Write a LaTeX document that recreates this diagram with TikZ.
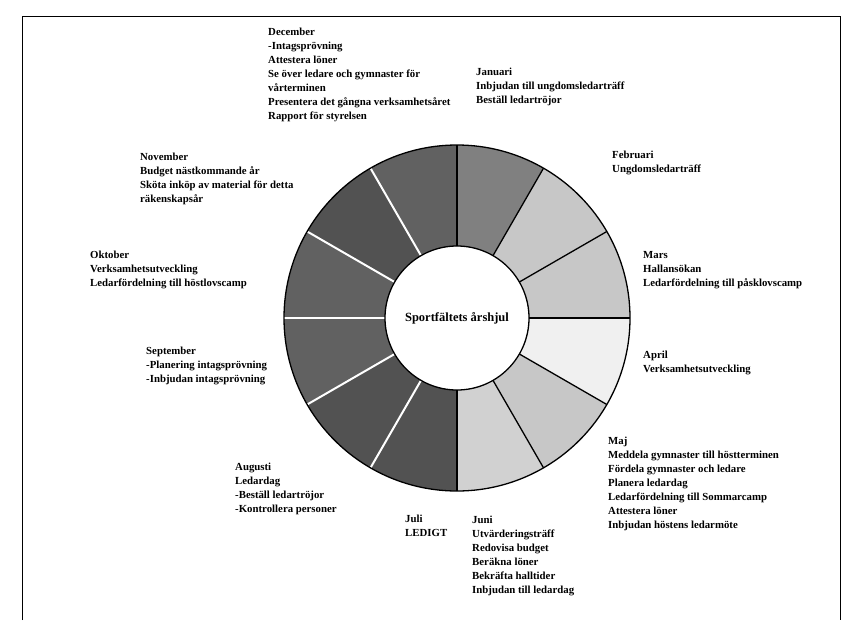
\documentclass[tikz,border=0pt]{standalone}
\usepackage{fontspec}
\setmainfont{Liberation Serif}
\begin{document}
\begin{tikzpicture}[x=1pt,y=-1pt,
  lbl/.style={anchor=north west, align=left, inner sep=0pt,
    font=\bfseries\fontsize{10.8}{14}\selectfont},
  ringline/.style={draw=black, line width=1.3pt},
  gapline/.style={draw=white, line width=2pt}]
\useasboundingbox (0,0) rectangle (861,627);
% frame
\draw[line width=1pt] (22,620) -- (22,16) -- (840,16) -- (840,620);
% ring sectors
\begin{scope}[shift={(457,318)}]
\foreach \k/\g in {0/50,1/22,2/22,3/6,4/22,5/18,6/68,7/68,8/62,9/62,10/68,11/62}{
  \pgfmathsetmacro{\s}{30*\k-90}
  \pgfmathsetmacro{\e}{30*\k-60}
  \fill[black!\g] (\s:72) arc[start angle=\s, end angle=\e, radius=72]
     -- (\e:173) arc[start angle=\e, end angle=\s, radius=173] -- cycle;
}
% dividers between dark sectors: white gaps
\foreach \s in {120,150,180,210,240}{
  \draw[gapline] (\s:72) -- (\s:173);
}
% dividers at light sectors: black lines
\foreach \s in {-90,-60,-30,0,30,60,90}{
  \draw[ringline] (\s:72) -- (\s:173);
}
\draw[ringline] (0,0) circle[radius=173];
\draw[ringline] (0,0) circle[radius=72];
\node[font=\bfseries\fontsize{12.5}{14}\selectfont] (center) at (0,0) {Sportfältets årshjul};
\end{scope}
% labels
\node[lbl] (dec) at (268,28) {December\\-Intagsprövning\\Attestera löner\\ Se över ledare och gymnaster för\\vårterminen\\ Presentera det gångna verksamhetsåret\\Rapport för styrelsen};
\node[lbl] (jan) at (476,68) {Januari\\Inbjudan till ungdomsledarträff\\Beställ ledartröjor};
\node[lbl] (feb) at (612,151) {Februari\\Ungdomsledarträff};
\node[lbl] (mar) at (643,251) {Mars\\Hallansökan\\Ledarfördelning till påsklovscamp};
\node[lbl] (apr) at (643,351) {April\\Verksamhetsutveckling};
\node[lbl] (maj) at (608,437) {Maj\\Meddela gymnaster till höstterminen\\Fördela gymnaster och ledare\\Planera ledardag\\Ledarfördelning till Sommarcamp\\Attestera löner\\Inbjudan höstens ledarmöte};
\node[lbl] (jun) at (472,516) {Juni\\Utvärderingsträff\\Redovisa budget\\Beräkna löner\\Bekräfta halltider\\Inbjudan till ledardag};
\node[lbl] (jul) at (405,515) {Juli\\LEDIGT};
\node[lbl] (aug) at (235,463) {Augusti\\Ledardag\\-Beställ ledartröjor\\-Kontrollera personer};
\node[lbl] (sep) at (146,347) {September\\-Planering intagsprövning\\-Inbjudan intagsprövning};
\node[lbl] (okt) at (90,251) {Oktober\\Verksamhetsutveckling\\Ledarfördelning till höstlovscamp};
\node[lbl] (nov) at (140,153) {November\\Budget nästkommande år\\Sköta inköp av material för detta\\räkenskapsår};
\end{tikzpicture}
\end{document}
